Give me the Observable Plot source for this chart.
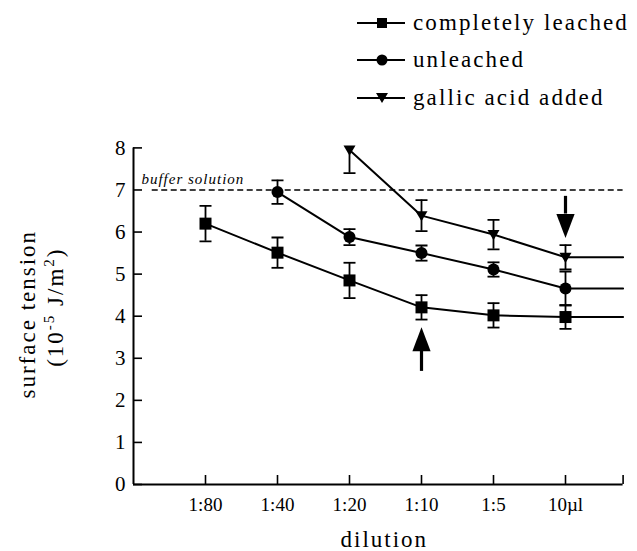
<!DOCTYPE html>
<html>
<head>
<meta charset="utf-8">
<script src="https://cdn.jsdelivr.net/npm/d3@7"></script>
<script src="https://cdn.jsdelivr.net/npm/@observablehq/plot@0.6"></script>
<style>
  html, body { margin: 0; padding: 0; background: #fff; }
  #wrap { width: 637px; height: 551px; position: relative; font-family: "Liberation Serif", "DejaVu Serif", serif; }
  #legend { height: 118px; box-sizing: border-box; padding-top: 4px; padding-left: 357px; }
  .row { height: 37.5px; display: flex; align-items: center; }
  .row svg { width: 48px; height: 20px; flex: none; }
  .row span { margin-left: 8px; font-family: "Liberation Serif", "DejaVu Serif", serif; font-size: 23px; letter-spacing: 2.1px; color: #000; white-space: nowrap; }
</style>
</head>
<body>
<div id="wrap">
  <div id="legend"></div>
  <div id="chart"></div>
</div>
<script>
// ---- data ----
const dilutions = ["1:80", "1:40", "1:20", "1:10", "1:5", "10µl"];
const seriesNames = ["completely leached", "unleached", "gallic acid added"];
const leached      = [6.20, 5.51, 4.85, 4.21, 4.02, 3.98];
const leachedErr   = [0.42, 0.36, 0.42, 0.29, 0.29, 0.28];
const unleached    = [null, 6.95, 5.88, 5.50, 5.11, 4.66];
const unleachedErr = [null, 0.28, 0.19, 0.18, 0.17, 0.40];
const gallic       = [null, null, 7.95, 6.39, 5.94, 5.40];
const gallicErr    = [null, null, 0.55, 0.37, 0.35, 0.29];
const bufferLevel = 7;
const bufferLabel = "buffer solution";
const yTicks = [0, 1, 2, 3, 4, 5, 6, 7, 8];
const yLabel1 = "surface tension";
const yLabel2 = "(10-5 J/m2)";
const xLabel = "dilution";
// arrows: dilution, tail value, head base value, tip value
const arrowAt   = ["1:10", "10µl"];
const arrowTail = [2.70, 6.86];
const arrowBase = [3.18, 6.44];
const arrowTip  = [3.74, 5.86];
const xEnd = 6.8;          // right end of the dilution axis (in category steps)
const bufferStart = 0.26;  // where the dashed buffer line starts

// ---- build tables ----
const idx = d => dilutions.indexOf(d) + 1;
const rawSeries = [
  {name: seriesNames[0], vals: leached, errs: leachedErr, shape: "square"},
  {name: seriesNames[1], vals: unleached, errs: unleachedErr, shape: "circle"},
  {name: seriesNames[2], vals: gallic, errs: gallicErr, shape: "tri"}
];
const points = [];
const lines = [];
for (const s of rawSeries) {
  let last = null;
  s.vals.forEach((v, i) => {
    if (v == null) return;
    const p = {series: s.name, shape: s.shape, x: i + 1, dilution: dilutions[i], y: v, e: s.errs[i]};
    points.push(p);
    lines.push({series: s.name, x: i + 1, y: v});
    last = v;
  });
  lines.push({series: s.name, x: xEnd, y: last});
}
const caps = points.flatMap(p => [{x: p.x, y: p.y - p.e}, {x: p.x, y: p.y + p.e}]);
const arrows = arrowAt.map((d, i) => ({x: idx(d), tail: arrowTail[i], base: arrowBase[i], tip: arrowTip[i], up: arrowTip[i] > arrowTail[i]}));
const xTicks = dilutions.map((d, i) => i + 1).concat([xEnd]);

// ---- custom symbols ----
const capSymbol = {draw(ctx, size) { const r = Math.sqrt(size / Math.PI); ctx.moveTo(-r, 0); ctx.lineTo(r, 0); }};
const triDown = {draw(ctx, size) { const r = Math.sqrt(size / Math.PI); ctx.moveTo(-r, -r * 0.75); ctx.lineTo(r, -r * 0.75); ctx.lineTo(0, r * 0.95); ctx.closePath(); }};
const squareSym = {draw(ctx, size) { const r = Math.sqrt(size / Math.PI); ctx.rect(-r, -r, 2 * r, 2 * r); }};
const circleSym = {draw(ctx, size) { const r = Math.sqrt(size / Math.PI); ctx.moveTo(r, 0); ctx.arc(0, 0, r, 0, 2 * Math.PI); }};
const headSym = {draw(ctx, size) { const r = Math.sqrt(size / Math.PI); ctx.moveTo(0, 0); ctx.lineTo(-0.38 * r, -r); ctx.lineTo(0.38 * r, -r); ctx.closePath(); }};

// ---- legend ----
const legend = document.getElementById("legend");
for (const s of rawSeries) {
  const row = document.createElement("div");
  row.className = "row";
  let marker;
  if (s.shape === "square") marker = '<rect x="20" y="5" width="10" height="10" fill="#000"/>';
  else if (s.shape === "circle") marker = '<circle cx="25" cy="10" r="5.5" fill="#000"/>';
  else marker = '<path d="M19,5 L31,5 L25,15 Z" fill="#000"/>';
  row.innerHTML = `<svg viewBox="0 0 48 20"><line x1="0" y1="10" x2="48" y2="10" stroke="#000" stroke-width="2"/>${marker}</svg><span>${s.name}</span>`;
  legend.appendChild(row);
}

// ---- chart ----
const symFor = {square: squareSym, circle: circleSym, tri: triDown};
const plot = Plot.plot({
  width: 637,
  height: 433,
  marginTop: 29.4,
  marginBottom: 67,
  marginLeft: 133,
  marginRight: 14.4,
  style: {fontFamily: "'Liberation Serif', 'DejaVu Serif', serif", fontSize: "18px", color: "#000", background: "#fff"},
  x: {domain: [0, xEnd], axis: null},
  y: {domain: [0, 8], axis: null},
  marks: [
    Plot.axisX({ticks: xTicks, tickFormat: v => dilutions[v - 1] ?? "", tickSize: -9, tickPadding: 22, strokeWidth: 1.6, label: null, fontSize: 19}),
    Plot.axisY({ticks: yTicks, tickSize: -9, tickPadding: 17, strokeWidth: 1.6, label: null, fontSize: 21}),
    Plot.ruleY([0], {strokeWidth: 2}),
    Plot.ruleX([0], {strokeWidth: 2}),
    Plot.ruleY([bufferLevel], {x1: bufferStart, x2: xEnd, strokeWidth: 1.5, strokeDasharray: "6,3.5"}),
    Plot.text([bufferLevel], {y: d => d, x: () => 0.11, text: () => bufferLabel, textAnchor: "start", dy: -11, fontStyle: "italic", fontSize: 15}),
    Plot.line(lines, {x: "x", y: "y", z: "series", stroke: "#000", strokeWidth: 2}),
    Plot.ruleX(points, {x: "x", y1: d => d.y - d.e, y2: d => d.y + d.e, strokeWidth: 1.8, clip: true}),
    Plot.dot(caps, {x: "x", y: "y", symbol: capSymbol, r: 6, stroke: "#000", strokeWidth: 1.8, fill: "none", clip: true}),
    Plot.dot(points, {x: "x", y: "y", symbol: d => symFor[d.shape], r: 6, fill: "#000", stroke: "none"}),
    Plot.link(arrows, {x1: "x", x2: "x", y1: "tail", y2: "base", strokeWidth: 3.2}),
    Plot.dot(arrows, {x: "x", y: "tip", symbol: headSym, r: 24, rotate: d => d.up ? 180 : 0, fill: "#000", stroke: "none"}),
    Plot.text([yLabel1], {frameAnchor: "left", text: d => d, textAnchor: "middle", lineAnchor: "middle", rotate: -90, dx: -106, dy: -2, fontSize: 23}),
    Plot.text([yLabel2], {frameAnchor: "left", text: d => d, textAnchor: "middle", lineAnchor: "middle", rotate: -90, dx: -78, dy: -9, fontSize: 23}),
    Plot.text([xLabel], {frameAnchor: "bottom", text: d => d, textAnchor: "middle", lineAnchor: "bottom", dx: 6, dy: 62, fontSize: 23})
  ]
});
d3.select(plot).selectAll("text").each(function() {
  const t = this.textContent;
  const sel = d3.select(this);
  if (t === yLabel1 || t === xLabel) sel.attr("letter-spacing", "2px");
  if (t === bufferLabel) sel.attr("letter-spacing", "1px");
  if (t === yLabel2) {
    sel.attr("letter-spacing", "2px").text(null);
    sel.append("tspan").text("(10");
    sel.append("tspan").attr("dy", "-9").attr("font-size", "15").text("-5");
    sel.append("tspan").attr("dy", "9").text(" J/m");
    sel.append("tspan").attr("dy", "-9").attr("font-size", "15").text("2");
    sel.append("tspan").attr("dy", "9").text(")");
  }
});
document.getElementById("chart").appendChild(plot);
</script>
</body>
</html>
